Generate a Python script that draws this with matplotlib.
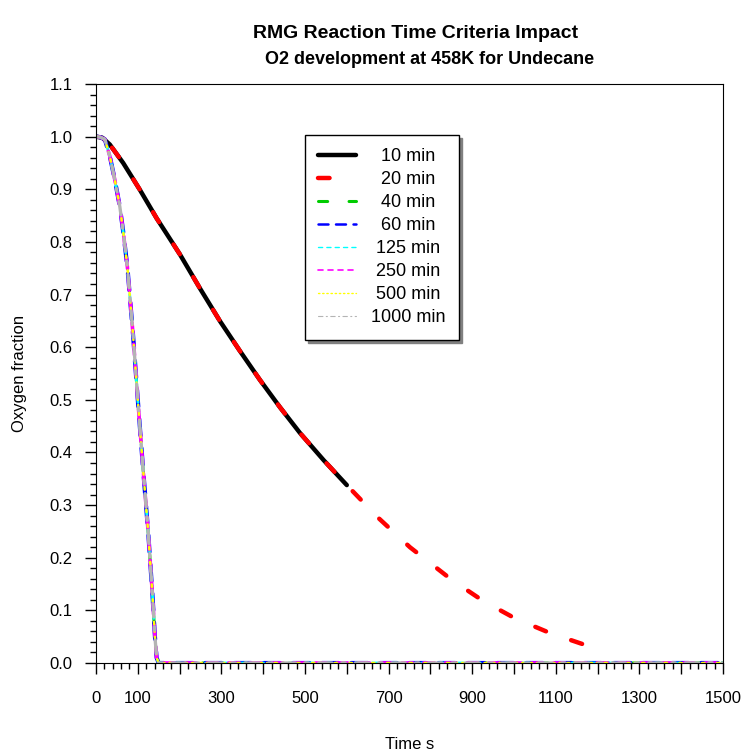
import matplotlib
matplotlib.use("Agg")
import matplotlib.pyplot as plt
from matplotlib.lines import Line2D
from matplotlib.ticker import MultipleLocator, FuncFormatter

plt.rcParams['font.family'] = ['Liberation Sans', 'DejaVu Sans']

# slow curve (10 min and 20 min criteria)
t_10min = [0, 15, 33, 65, 105, 145, 201, 250, 297, 345, 392, 440, 488, 545, 600]
o2_10min = [1.0, 0.998, 0.985, 0.95, 0.899, 0.845, 0.776, 0.71, 0.649, 0.592, 0.538, 0.486, 0.437, 0.385, 0.338]
t_20min = t_10min + [675, 751, 851, 926, 1002, 1086, 1175]
o2_20min = o2_10min + [0.276, 0.22, 0.158, 0.118, 0.085, 0.057, 0.033]

# fast curve (40 min and longer all coincide)
t_fast = [0, 10, 21, 33, 45, 57, 65, 75, 88, 100, 112, 125, 135, 141, 145, 150, 1500]
o2_fast = [1.0, 0.999, 0.995, 0.963, 0.918, 0.867, 0.82, 0.753, 0.63, 0.5, 0.375, 0.247, 0.13, 0.05, 0.01, 0.0, 0.0]

labels = ['10 min', '20 min', '40 min', '60 min', '125 min', '250 min', '500 min', '1000 min']
colors = ['black', 'red', '#00cc00', 'blue', 'cyan', 'magenta', 'yellow', '#b4b4b4']
styles = ['-', (4, (2.6, 6)), (0, (3, 7)), (0, (4, 3)), (0, (3, 3)), (0, (3, 3)), (0, (1, 2)), (0, (4, 3, 1, 3))]
leg_styles = ['-', (0, (2.6, 6)), (0, (3, 7)), (0, (4, 3)), (0, (3, 3)), (0, (3, 3)), (0, (1, 2)), (0, (4, 3, 1, 3))]
plot_lw = [3.2, 3.2, 2.2, 3.0, 2.0, 2.6, 1.8, 2.4]
leg_lw = [3.2, 3.2, 2.2, 1.8, 1.0, 1.2, 1.0, 0.8]

series_t = [t_10min, t_20min] + [t_fast] * 6
series_y = [o2_10min, o2_20min] + [o2_fast] * 6

fig = plt.figure(figsize=(7.46, 7.51), dpi=100)
ax = fig.add_axes([96 / 746, 1 - 663 / 751, 627 / 746, 579 / 751])

for i in range(len(labels)):
    ax.plot(series_t[i], series_y[i], color=colors[i], linestyle=styles[i],
            linewidth=plot_lw[i], dash_capstyle='round', solid_capstyle='round')

ax.set_xlim(0, 1500)
ax.set_ylim(0, 1.1)
ax.xaxis.set_major_locator(MultipleLocator(100))
ax.xaxis.set_minor_locator(MultipleLocator(20))
ax.yaxis.set_major_locator(MultipleLocator(0.1))
ax.yaxis.set_minor_locator(MultipleLocator(0.02))
shown = [0, 100, 300, 500, 700, 900, 1100, 1300, 1500]
ax.xaxis.set_major_formatter(FuncFormatter(lambda v, p: str(int(round(v))) if int(round(v)) in shown else ''))
ax.yaxis.set_major_formatter(FuncFormatter(lambda v, p: '%.1f' % v))
ax.tick_params(which='major', direction='out', length=8, width=1, labelsize=12, pad=9)
ax.tick_params(which='minor', direction='out', length=4, width=1)
ax.tick_params(axis='x', which='major', pad=12)

ax.set_xlabel('Time s', fontsize=12)
ax.xaxis.set_label_coords(0.5, -0.127)
ax.set_ylabel('Oxygen fraction', fontsize=12)
ax.yaxis.set_label_coords(-0.11, 0.5)

fig.text(416 / 746, 1 - 33 / 751, 'RMG Reaction Time Criteria Impact', ha='center', va='center',
         fontsize=14, fontweight='bold')
fig.text(430 / 746, 1 - 60 / 751, 'O2 development at 458K for Undecane', ha='center', va='center',
         fontsize=13, fontweight='bold')

handles = [Line2D([], [], color=colors[i], linestyle=leg_styles[i], linewidth=leg_lw[i],
                  dash_capstyle='round', solid_capstyle='round') for i in range(len(labels))]
# labels padded so they sit centred like the original
padded = ['  ' + l if len(l) == 6 else (' ' + l if len(l) == 7 else l) for l in labels]
leg = ax.legend(handles, padded, loc='upper left', bbox_to_anchor=(0.333, 0.912),
                fontsize=13, frameon=True, fancybox=False, edgecolor='black',
                shadow={'color': 'gray', 'alpha': 1}, handlelength=2.1, handletextpad=0.8,
                labelspacing=0.33, borderpad=0.75, borderaxespad=0)
leg.get_frame().set_linewidth(1)

fig.savefig('out.png', dpi=100)
